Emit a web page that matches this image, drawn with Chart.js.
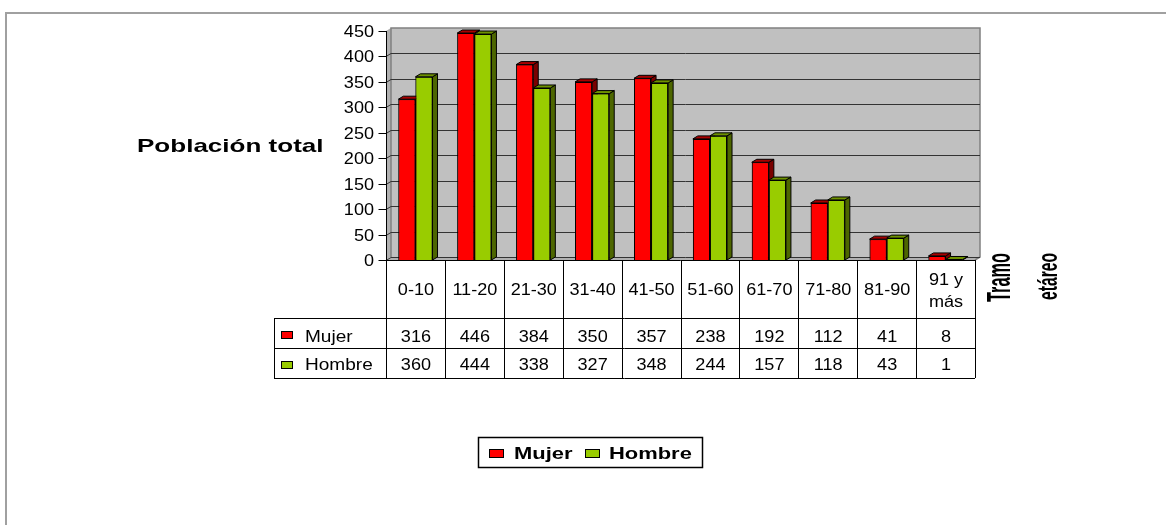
<!DOCTYPE html>
<html><head><meta charset="utf-8">
<script src="https://cdn.jsdelivr.net/npm/chart.js@4.4.0/dist/chart.umd.min.js"></script>
<style>html,body{margin:0;padding:0;background:#fff;}#wrap{position:relative;width:1166px;height:525px;}</style>
</head><body><div id="wrap"><canvas id="c" width="1166" height="525"></canvas></div>
<script>
// ---- data ----
const categories = ['0-10','11-20','21-30','31-40','41-50','51-60','61-70','71-80','81-90','91 y más'];
const headerLines = [['0-10'],['11-20'],['21-30'],['31-40'],['41-50'],['51-60'],['61-70'],['71-80'],['81-90'],['91 y','más']];
const mujer  = [316,446,384,350,357,238,192,112,41,8];
const hombre = [360,444,338,327,348,244,157,118,43,1];
const seriesNames = ['Mujer','Hombre'];
const yTitle = 'Población total';
const xTitleWords = ['Tramo','etáreo'];
const yMin = 0, yMax = 450, yStep = 50;

// ---- styles ----
const FONT = '"Liberation Sans", Arial, sans-serif';
const NARROW = '"Liberation Sans Narrow", "Liberation Sans", Arial, sans-serif';
const DX = 5, DY = 3;
const frontColors = ['#FF0000', '#99CC00'];
const sideColors  = ['#7A0000', '#4D6600'];
const topColors   = ['#A80000', '#6E9200'];
const seriesValues = [mujer, hombre];
const TFONT = '16px ' + FONT, TSX = 1.13;
const BFONT = 'bold 16px ' + FONT, BSX = 1.37;

function poly(ctx, pts){ ctx.beginPath(); ctx.moveTo(pts[0][0],pts[0][1]); for(let i=1;i<pts.length;i++) ctx.lineTo(pts[i][0],pts[i][1]); ctx.closePath(); }
function line(ctx, x1,y1,x2,y2){ ctx.beginPath(); ctx.moveTo(x1,y1); ctx.lineTo(x2,y2); ctx.stroke(); }

function txt(ctx, s, x, y, font, align, sx, baseline){
  ctx.save(); ctx.font=font; ctx.fillStyle='#000';
  ctx.textBaseline=baseline||'alphabetic'; ctx.textAlign=align;
  ctx.translate(x, y); ctx.scale(sx, 1);
  ctx.fillText(s, 0, 0);
  ctx.restore();
}
function vtext(ctx, s, bx, cy, len, h, font){
  ctx.save(); ctx.font=font; ctx.fillStyle='#000';
  const m=ctx.measureText(s);
  const w=m.width, asc=m.actualBoundingBoxAscent;
  ctx.translate(bx, cy); ctx.rotate(-Math.PI/2); ctx.scale(len/w, h/asc);
  ctx.textAlign='center'; ctx.textBaseline='alphabetic';
  ctx.fillText(s, 0, 0);
  ctx.restore();
}

const excelPlugin = {
  id: 'excel3d',
  beforeDraw(chart){
    const ctx=chart.ctx;
    ctx.save(); ctx.fillStyle='#fff'; ctx.fillRect(0,0,chart.width,chart.height); ctx.restore();
  },
  beforeDatasetsDraw(chart){
    const {ctx, chartArea:a, scales:{y}} = chart;
    ctx.save();
    ctx.fillStyle='#C0C0C0';
    ctx.fillRect(a.left+DX, a.top-DY, a.right-a.left, a.bottom-a.top);
    ctx.fillStyle='#B0B0B0';
    poly(ctx, [[a.left,a.top],[a.left+DX,a.top-DY],[a.left+DX,a.bottom-DY],[a.left,a.bottom]]); ctx.fill();
    poly(ctx, [[a.left,a.bottom],[a.left+DX,a.bottom-DY],[a.right+DX,a.bottom-DY],[a.right,a.bottom]]); ctx.fill();
    ctx.strokeStyle='#808080'; ctx.lineWidth=1.5;
    ctx.beginPath(); ctx.moveTo(a.left+DX, a.bottom-DY); ctx.lineTo(a.left+DX, a.top-DY); ctx.lineTo(a.right+DX, a.top-DY); ctx.lineTo(a.right+DX, a.bottom-DY); ctx.lineTo(a.right, a.bottom); ctx.stroke();
    ctx.strokeStyle='#333'; ctx.lineWidth=1;
    y.ticks.forEach(t=>{
      if (t.value===yMax) return;
      const py=Math.round(y.getPixelForValue(t.value))+0.5;
      ctx.beginPath(); ctx.moveTo(a.left,py); ctx.lineTo(a.left+DX,py-DY); ctx.lineTo(a.right+DX,py-DY); ctx.stroke();
    });
    ctx.restore();
  },
  afterDatasetsDraw(chart){
    const ctx=chart.ctx;
    ctx.save();
    for (let di=0; di<chart.data.datasets.length; di++){
      const meta=chart.getDatasetMeta(di);
      meta.data.forEach(bar=>{
        bar.draw(ctx);
        const {x,y,base,width}=bar.getProps(['x','y','base','width'],true);
        const l=x-width/2, r=x+width/2;
        ctx.strokeStyle='#000'; ctx.lineWidth=1;
        ctx.fillStyle=sideColors[di];
        poly(ctx, [[r,y],[r+DX,y-DY],[r+DX,base-DY],[r,base]]); ctx.fill(); ctx.stroke();
        ctx.fillStyle=topColors[di];
        poly(ctx, [[l,y],[l+DX,y-DY],[r+DX,y-DY],[r,y]]); ctx.fill(); ctx.stroke();
      });
    }
    ctx.restore();
  },
  afterDraw(chart){
    const {ctx, chartArea:a, scales:{x,y}} = chart;
    ctx.save();
    const n=categories.length, cw=(a.right-a.left)/n;
    const HDR=58, ROW=30, legL=274;
    const t0=a.bottom, t1=t0+HDR, t2=t1+ROW, t3=t2+ROW;
    ctx.strokeStyle='#000'; ctx.lineWidth=1;
    const ax=Math.round(a.left)+0.5;
    line(ctx, ax, a.top, ax, t3);
    y.ticks.forEach(t=>{
      const py=Math.round(y.getPixelForValue(t.value))+0.5;
      line(ctx, ax-8, py, ax, py);
      txt(ctx, String(t.value), a.left-12, py+1, TFONT, 'right', TSX, 'middle');
    });
    line(ctx, ax, Math.round(t0)+0.5, a.right, Math.round(t0)+0.5);
    [t1,t2,t3].forEach(ty=>line(ctx, legL, Math.round(ty)+0.5, a.right, Math.round(ty)+0.5));
    for (let i=0;i<n;i++){
      const bx=Math.round(x.getPixelForValue(i)+cw/2)+0.5;
      line(ctx, bx, t0, bx, t3);
    }
    line(ctx, legL+0.5, t1, legL+0.5, t3);
    for (let i=0;i<n;i++){
      const cx=x.getPixelForValue(i)+0.5;
      const lines=headerLines[i];
      if (lines.length===1) txt(ctx, lines[0], cx, t0+35, TFONT, 'center', TSX);
      else { txt(ctx, lines[0], cx, t0+25, TFONT, 'center', TSX); txt(ctx, lines[1], cx, t0+47, TFONT, 'center', TSX); }
      txt(ctx, String(mujer[i]),  cx, t1+23.5, TFONT, 'center', TSX);
      txt(ctx, String(hombre[i]), cx, t2+22, TFONT, 'center', TSX);
    }
    [[t1+18, 0, t1+23.5], [t2+18, 1, t2+22]].forEach(([sy, di, by])=>{
      ctx.fillStyle=frontColors[di]; ctx.fillRect(281.5, sy-4.5, 11, 7); ctx.strokeRect(281.5, sy-4.5, 11, 7);
      txt(ctx, seriesNames[di], 305, by, TFONT, 'left', 1.19);
    });
    txt(ctx, yTitle, 137, 152, 'bold 19px '+FONT, 'left', BSX);
    vtext(ctx, xTitleWords[0], 1010, 277.5, 49, 23, 'bold 22px '+NARROW);
    vtext(ctx, xTitleWords[1], 1057, 276.5, 47, 20, 'bold 22px '+NARROW);
    ctx.lineWidth=1.5; ctx.strokeStyle='#000';
    ctx.strokeRect(478.5, 437.5, 224, 30);
    ctx.lineWidth=1;
    ctx.fillStyle=frontColors[0]; ctx.fillRect(489.5, 449.5, 14, 8); ctx.strokeRect(489.5, 449.5, 14, 8);
    txt(ctx, seriesNames[0], 514, 458.5, BFONT, 'left', BSX);
    ctx.fillStyle=frontColors[1]; ctx.fillRect(585.5, 449.5, 14, 8); ctx.strokeRect(585.5, 449.5, 14, 8);
    txt(ctx, seriesNames[1], 609, 458.5, BFONT, 'left', BSX);
    ctx.strokeStyle='#A0A0A0'; ctx.lineWidth=2;
    ctx.beginPath(); ctx.moveTo(6, chart.height); ctx.lineTo(6, 13); ctx.lineTo(chart.width, 13); ctx.stroke();
    ctx.restore();
  }
};

new Chart(document.getElementById('c'), {
  type: 'bar',
  data: {
    labels: categories,
    datasets: seriesNames.map((name, i)=>({
      label: name,
      data: seriesValues[i],
      backgroundColor: frontColors[i],
      borderColor: '#000',
      borderWidth: 1,
      categoryPercentage: 0.58,
      barPercentage: 1
    }))
  },
  options: {
    responsive: false, animation: false, devicePixelRatio: 1,
    layout: { padding: { left: 0, right: 191, top: 31, bottom: 265 } },
    plugins: { legend: { display: false }, title: { display: false }, tooltip: { enabled: false } },
    scales: {
      x: { display: false, offset: true, grid: { display: false } },
      y: {
        min: yMin, max: yMax,
        ticks: { stepSize: yStep, padding: 11, color: 'rgba(0,0,0,0)', font: { family: FONT, size: 15 } },
        grid: { display: false, drawTicks: false },
        border: { display: false },
        afterFit(s){ s.width = 386; }
      }
    }
  },
  plugins: [excelPlugin]
});
</script>
</body></html>
